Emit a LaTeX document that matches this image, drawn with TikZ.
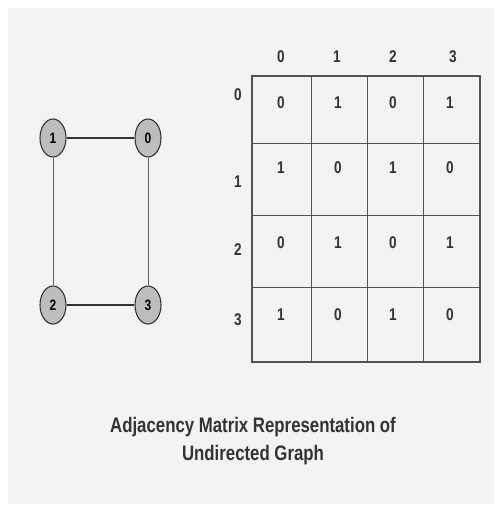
\documentclass[tikz,border=0pt]{standalone}
\usepackage{fontspec}
\setmainfont{Liberation Sans}
\newfontfamily\narrowfont[FakeStretch=0.8]{Liberation Sans}
\usetikzlibrary{shapes.geometric}
\definecolor{bg}{HTML}{F3F3F3}
\definecolor{vtx}{HTML}{BDBDBD}
\definecolor{ink}{HTML}{333333}

\begin{document}
\begin{tikzpicture}[x=1pt,y=-1pt,
  vert/.style={ellipse,draw=ink,fill=vtx,line width=1.1pt,minimum width=26pt,
    minimum height=38pt,inner sep=0pt,font=\narrowfont\bfseries\fontsize{15}{15}\selectfont},
  num/.style={font=\narrowfont\bfseries\fontsize{17}{17}\selectfont,text=ink,inner sep=0pt}]
  % page, 502 x 512 px, y runs downwards
  \fill[white] (0,0) rectangle (502,512);
  \fill[bg] (8,8) rectangle (494,504);
  \useasboundingbox (0,0) rectangle (502,512);

  % the graph
  \node[vert] (v1) at (53,138) {1};
  \node[vert] (v0) at (148,138) {0};
  \node[vert] (v2) at (53,305) {2};
  \node[vert] (v3) at (148,305) {3};
  \draw[ink,line width=1.8pt] (v1) -- (v0);
  \draw[ink,line width=1.8pt] (v2) -- (v3);
  \draw[ink!80,line width=0.9pt] (v1) -- (v2);
  \draw[ink!80,line width=0.9pt] (v0) -- (v3);

  % grid of the matrix
  \draw[ink!85,line width=1.2pt] (252,76) rectangle (480,362);
  \foreach \xx in {311,367,423}
    \draw[ink!85,line width=1pt] (\xx,76) -- (\xx,362);
  \foreach \yy in {143,215,287}
    \draw[ink!85,line width=1pt] (252,\yy) -- (480,\yy);

  % headings
  \foreach \k/\xx in {0/281,1/337,2/393,3/453}
    \node[num] (col\k) at (\xx,57) {\k};
  \foreach \k/\yy in {0/95,1/182,2/250,3/320}
    \node[num] (row\k) at (238,\yy) {\k};

  % entries
  \foreach \r/\yy/\pa/\pb/\pc/\pd in {0/103/0/1/0/1,1/168/1/0/1/0,
                                      2/243/0/1/0/1,3/315/1/0/1/0}{
    \node[num] (m\r0) at (281,\yy) {\pa};
    \node[num] (m\r1) at (338,\yy) {\pb};
    \node[num] (m\r2) at (393,\yy) {\pc};
    \node[num] (m\r3) at (450,\yy) {\pd};
  }

  % caption
  \node[font=\narrowfont\bfseries\fontsize{21}{28}\selectfont,text=ink,align=center]
    (cap) at (253,441) {Adjacency Matrix Representation of\\Undirected Graph};
\end{tikzpicture}
\end{document}
